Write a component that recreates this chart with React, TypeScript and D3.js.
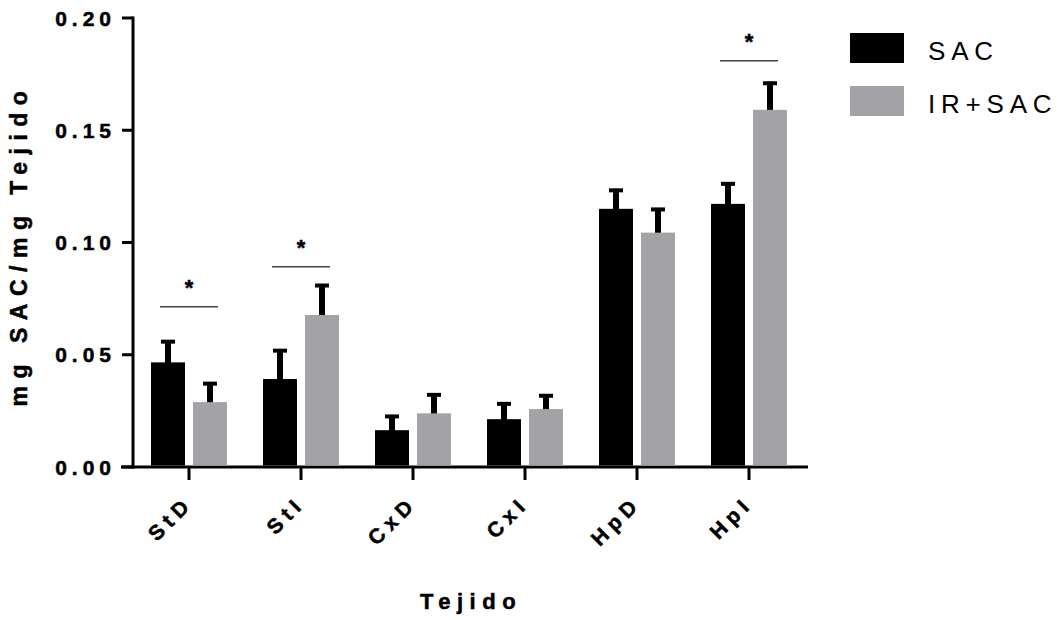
import { useEffect, useRef } from 'react';
import * as d3 from 'd3';

const categories = ['StD', 'StI', 'CxD', 'CxI', 'HpD', 'HpI'];
const series = ['SAC', 'IR+SAC'];
const sacMean = [0.0466, 0.0392, 0.0164, 0.0213, 0.115, 0.1172];
const sacErr = [0.0099, 0.0133, 0.0068, 0.0075, 0.0089, 0.0096];
const irMean = [0.0289, 0.0677, 0.0239, 0.0258, 0.1044, 0.1591];
const irErr = [0.0089, 0.0138, 0.0089, 0.0066, 0.011, 0.0125];
const yTicks = [0, 0.05, 0.1, 0.15, 0.2];
// significance brackets: category and bracket height (data units)
const sigCats = ['StD', 'StI', 'HpI'];
const sigLevel = [0.0714, 0.0892, 0.181];

const colors = ['#000000', '#a3a2a7'];
const font = "'Liberation Sans', Arial, sans-serif";

export default function App() {
  const svgRef = useRef<SVGSVGElement>(null);

  useEffect(() => {
    if (!svgRef.current) return;
    const svg = d3.select(svgRef.current);
    svg.selectAll('*').remove();

    const x = d3.scaleBand().domain(categories).range([133, 805]).padding(0);
    const y = d3.scaleLinear().domain([0, 0.2]).range([467, 18]);
    const bw = 34;
    const gap = 8;

    // bold labels get a thin stroke so they read as heavy as the original
    const heavy = (t: d3.Selection<SVGTextElement, unknown, null, undefined>) =>
      t.attr('font-family', font).attr('font-weight', 'bold')
        .attr('stroke', '#000').attr('stroke-width', 0.5);

    // y axis
    const ya = svg.append('g').attr('transform', 'translate(133,0)');
    ya.append('line').attr('x1', 0).attr('x2', 0).attr('y1', y(0.2) - 1.5).attr('y2', y(0) + 1.5)
      .attr('stroke', '#000').attr('stroke-width', 3);
    yTicks.forEach((t) => {
      ya.append('line').attr('x1', -11).attr('x2', 0).attr('y1', y(t)).attr('y2', y(t))
        .attr('stroke', '#000').attr('stroke-width', 3);
      ya.append('text').attr('x', -17).attr('y', y(t)).attr('dy', '0.36em')
        .attr('text-anchor', 'end').call(heavy)
        .attr('font-size', 21).attr('letter-spacing', 5).text(t.toFixed(2));
    });

    // x axis
    const xa = svg.append('g');
    xa.append('line').attr('x1', 121).attr('x2', 808).attr('y1', y(0)).attr('y2', y(0))
      .attr('stroke', '#000').attr('stroke-width', 3);
    categories.forEach((c) => {
      const cx = x(c)! + x.bandwidth() / 2;
      xa.append('line').attr('x1', cx).attr('x2', cx).attr('y1', y(0)).attr('y2', y(0) + 13)
        .attr('stroke', '#000').attr('stroke-width', 3);
      xa.append('text').attr('transform', `translate(${cx + 5},${y(0) + 38}) rotate(-45)`)
        .attr('text-anchor', 'end').call(heavy)
        .attr('font-size', 21).attr('letter-spacing', 5.5).text(c);
    });

    // bars + error bars
    const groups = [
      { mean: sacMean, err: sacErr, off: -gap / 2 - bw },
      { mean: irMean, err: irErr, off: gap / 2 },
    ];
    groups.forEach((gdef, si) => {
      categories.forEach((c, i) => {
        const bx = x(c)! + x.bandwidth() / 2 + gdef.off;
        const mid = bx + bw / 2;
        const top = y(gdef.mean[i] + gdef.err[i]);
        svg.append('line').attr('x1', mid).attr('x2', mid).attr('y1', top).attr('y2', y(gdef.mean[i]) + 2)
          .attr('stroke', '#000').attr('stroke-width', 6);
        svg.append('line').attr('x1', mid - 7).attr('x2', mid + 7).attr('y1', top + 1.5).attr('y2', top + 1.5)
          .attr('stroke', '#000').attr('stroke-width', 4);
        svg.append('rect').attr('x', bx).attr('width', bw)
          .attr('y', y(gdef.mean[i])).attr('height', y(0) - y(gdef.mean[i]) - 1.5)
          .attr('fill', colors[si]);
      });
    });

    // significance marks
    sigCats.forEach((c, i) => {
      const cx = x(c)! + x.bandwidth() / 2;
      const ly = y(sigLevel[i]);
      svg.append('line').attr('x1', cx - 29).attr('x2', cx + 29).attr('y1', ly).attr('y2', ly)
        .attr('stroke', '#444').attr('stroke-width', 1.5);
      svg.append('text').attr('x', cx).attr('y', ly - 12).attr('text-anchor', 'middle')
        .call(heavy).attr('font-size', 22).text('*');
    });

    // axis titles
    svg.append('text').attr('transform', 'translate(27,245) rotate(-90)')
      .attr('text-anchor', 'middle').call(heavy)
      .attr('font-size', 23).attr('letter-spacing', 7.5).text('mg SAC/mg Tejido');
    svg.append('text').attr('x', 471).attr('y', 609).attr('text-anchor', 'middle')
      .call(heavy).attr('font-size', 22).attr('letter-spacing', 6.5).text('Tejido');

    // legend
    series.forEach((s, i) => {
      const ly = 33 + i * 53;
      svg.append('rect').attr('x', 850).attr('y', ly).attr('width', 54).attr('height', 30)
        .attr('fill', colors[i]);
      svg.append('text').attr('x', 928).attr('y', ly + 27)
        .attr('font-family', font).attr('font-size', 26).attr('letter-spacing', 5.8).text(s);
    });
  }, []);

  return (
    <svg ref={svgRef} width={1060} height={620}
      style={{ position: 'absolute', left: 0, top: 0, background: '#fff' }} />
  );
}
